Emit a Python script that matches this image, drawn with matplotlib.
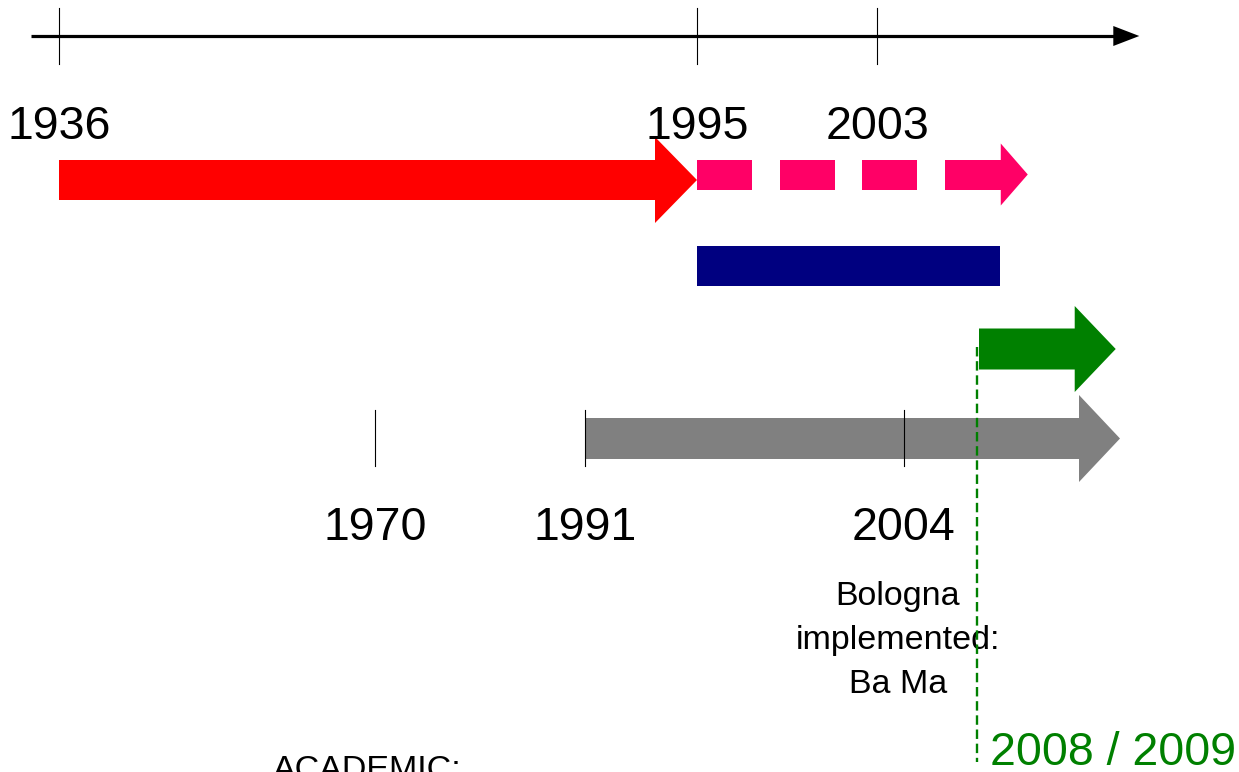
import numpy as np
import matplotlib
matplotlib.use("Agg")
import matplotlib.pyplot as plt
from matplotlib.patches import Polygon, Rectangle

# ---------------- data ----------------
top_years = [1936, 1995, 2003]
bottom_years = [1970, 1991, 2004]
period_names = ["red", "pink_dashed", "navy", "green", "grey"]
period_start = [1936, 1995, 1995, 2008, 1991]
period_end = [1995, 2008.71, 2008.32, 2009.94, 2010.0]
period_colors = ["#FF0000", "#FF0066", "#000080", "#008000", "#808080"]
bologna_year_label = "2008 / 2009"
bologna_year = 2008
bologna_text = ["Bologna", "implemented:", "Ba Ma"]
bottom_caption = "ACADEMIC:"
axis_end_year = 2010.27

# ---------------- schematic year scale (layout) ----------------
scale_years = [1936, 1970, 1991, 1995, 2003, 2004, 2008, 2010]
scale_px = [59, 375, 585, 697, 877, 904, 977, 1120]


def X(year):
    if year <= scale_years[-1]:
        return float(np.interp(year, scale_years, scale_px))
    return scale_px[-1] + (year - scale_years[-1]) * 71.5


W, H = 1239, 772
fig = plt.figure(figsize=(W / 100, H / 100), dpi=100)
ax = fig.add_axes([0, 0, 1, 1])
ax.set_xlim(0, W)
ax.set_ylim(H, 0)
ax.axis("off")

FONT = "Liberation Sans"


def block_arrow(x0, x1, yc, body_h, head_h, head_len, color, z=2):
    xb = x1 - head_len
    pts = [(x0, yc - body_h), (xb, yc - body_h), (xb, yc - head_h), (x1, yc),
           (xb, yc + head_h), (xb, yc + body_h), (x0, yc + body_h)]
    ax.add_patch(Polygon(pts, closed=True, facecolor=color, edgecolor="none", zorder=z))


# ---- top time axis ----
ax_y = 36
ax.plot([31, X(axis_end_year) - 24], [ax_y, ax_y], color="black", lw=2.3,
        solid_capstyle="butt", zorder=3)
ax.add_patch(Polygon([(X(axis_end_year) - 26, ax_y - 10), (X(axis_end_year), ax_y),
                      (X(axis_end_year) - 26, ax_y + 10)], closed=True,
                     facecolor="black", edgecolor="none", zorder=3))
for yr in top_years:
    ax.plot([X(yr), X(yr)], [8, 64], color="black", lw=0.8, zorder=3)
    ax.text(X(yr), 139, str(yr), ha="center", va="baseline", fontsize=33.5,
            family=FONT, color="black", zorder=4)

# ---- red arrow ----
i = 0
block_arrow(X(period_start[i]), X(period_end[i]), 180, 20, 43, 42, period_colors[i])

# ---- pink dashed arrow ----
i = 1
x_start, x_tip = X(period_start[i]), X(period_end[i])
head_len = 27
body_end = x_tip - head_len
dash, gap = 55, 27.5
yc, bh = 174.5, 15
x = x_start
while x < body_end:
    seg_end = min(x + dash, body_end)
    if body_end - seg_end < gap:
        seg_end = body_end
    ax.add_patch(Rectangle((x, yc - bh), seg_end - x, 2 * bh,
                           facecolor=period_colors[i], edgecolor="none", zorder=2))
    x = seg_end + gap
ax.add_patch(Polygon([(body_end, yc - 31), (x_tip, yc), (body_end, yc + 31)], closed=True,
                     facecolor=period_colors[i], edgecolor="none", zorder=2))

# ---- navy bar ----
i = 2
ax.add_patch(Rectangle((X(period_start[i]), 246), X(period_end[i]) - X(period_start[i]), 40,
                       facecolor=period_colors[i], edgecolor="none", zorder=2))

# ---- green arrow ----
i = 3
block_arrow(X(period_start[i]) + 2, X(period_end[i]), 349, 20.5, 43, 41, period_colors[i])

# ---- grey arrow ----
i = 4
block_arrow(X(period_start[i]), X(period_end[i]), 438.5, 20.5, 43.5, 41, period_colors[i])

# ---- bottom ticks & labels ----
for yr in bottom_years:
    ax.plot([X(yr), X(yr)], [410, 466], color="black", lw=0.8, zorder=3)
    ax.text(X(yr), 540, str(yr), ha="center", va="baseline", fontsize=33.5,
            family=FONT, color="black", zorder=4)

# ---- Bologna annotation ----
for txt, yb in zip(bologna_text, [605, 649, 693]):
    ax.text(898, yb, txt, ha="center", va="baseline", fontsize=24.5,
            family=FONT, color="black", zorder=4)

ax.plot([X(bologna_year), X(bologna_year)], [347, 762], color="#008000", lw=1.7,
        linestyle=(0, (4, 2)), zorder=5)
ax.text(X(bologna_year) + 13, 765, bologna_year_label, ha="left", va="baseline",
        fontsize=33.5, family=FONT, color="#008000", zorder=4)

ax.text(273, 779, bottom_caption, ha="left", va="baseline", fontsize=24.5,
        family=FONT, color="black", zorder=4)

fig.savefig("out.png", dpi=100)
